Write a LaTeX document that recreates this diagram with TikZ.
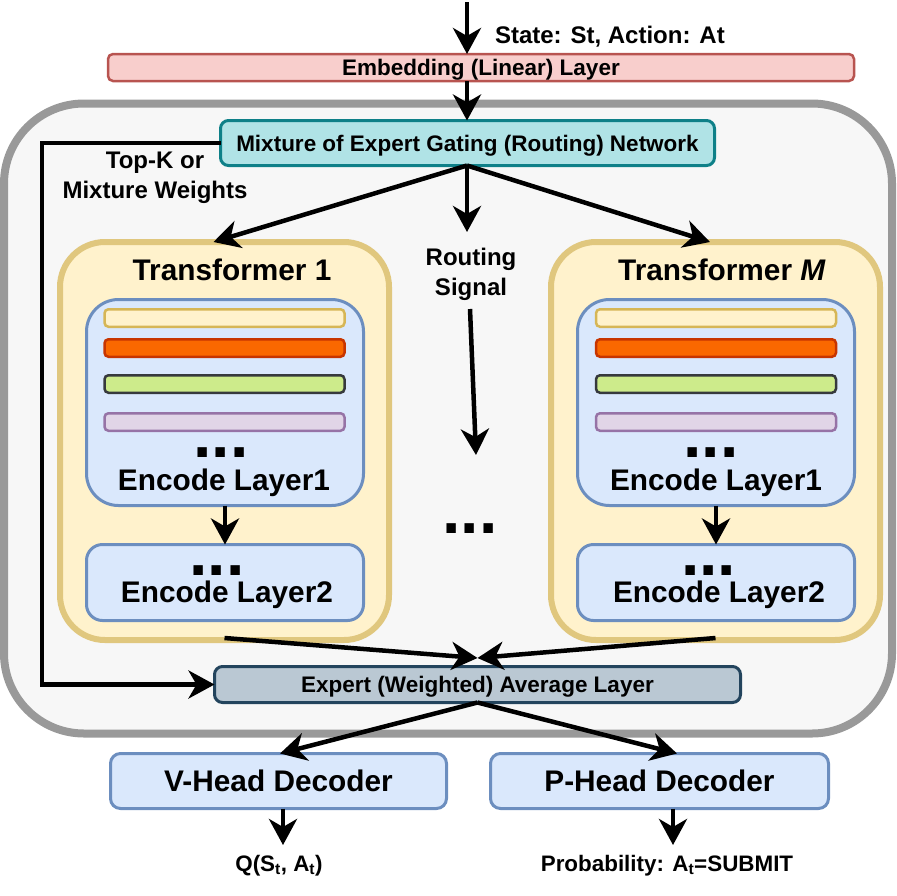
\documentclass[tikz,border=0pt]{standalone}
\usepackage{fontspec}
\setmainfont{Liberation Sans}
\usetikzlibrary{%
  arrows.meta,%
  positioning,% wg. " of "
  calc%
}
\definecolor{embfill}{HTML}{F8CECC}
\definecolor{embdraw}{HTML}{B85450}
\definecolor{gatefill}{HTML}{B0E3E6}
\definecolor{gatedraw}{HTML}{0E8088}
\definecolor{outerfill}{HTML}{F7F7F7}
\definecolor{outerdraw}{HTML}{999999}
\definecolor{transfill}{HTML}{FFF2CC}
\definecolor{transdraw}{HTML}{E0C77E}
\definecolor{encfill}{HTML}{DAE8FC}
\definecolor{encdraw}{HTML}{6C8EBF}
\definecolor{avgfill}{HTML}{BAC8D3}
\definecolor{avgdraw}{HTML}{23445D}
\definecolor{barAfill}{HTML}{FFF2CC}
\definecolor{barAdraw}{HTML}{D6B656}
\definecolor{barBfill}{HTML}{FA6800}
\definecolor{barBdraw}{HTML}{C73500}
\definecolor{barCfill}{HTML}{CDEB8B}
\definecolor{barCdraw}{HTML}{36393D}
\definecolor{barDfill}{HTML}{E1D5E7}
\definecolor{barDdraw}{HTML}{9673A6}

\newcommand{\bigdots}{{\fontsize{66}{27}\selectfont ...}}

\begin{document}
\begin{tikzpicture}
  [
  x=1pt, y=-1pt,
  line width=4.5pt,
  >={Stealth[length=26pt,width=28pt,inset=8pt]},
  box/.style={rectangle, inner sep=0pt, outer sep=0pt},
  embnode/.style={box, draw=embdraw, fill=embfill, line width=2.5pt, rounded corners=5pt,
    minimum width=746pt, minimum height=27pt,
    font=\bfseries\fontsize{22.5}{26}\selectfont, text height=16.1pt, text depth=0pt},
  gatenode/.style={box, draw=gatedraw, fill=gatefill, line width=3pt, rounded corners=8pt,
    minimum width=494pt, minimum height=45pt,
    font=\bfseries\fontsize{22.5}{26}\selectfont, text height=16.1pt, text depth=0pt},
  outernode/.style={box, draw=outerdraw, fill=outerfill, line width=8pt, rounded corners=80pt,
    minimum width=888pt, minimum height=630pt},
  transnode/.style={box, draw=transdraw, fill=transfill, line width=6pt, rounded corners=45pt,
    minimum width=329pt, minimum height=398pt},
  encnode/.style={box, draw=encdraw, fill=encfill, line width=3pt, minimum width=277pt},
  barnode/.style={box, line width=2.5pt, rounded corners=4pt, minimum width=240pt, minimum height=17.5pt},
  avgnode/.style={box, draw=avgdraw, fill=avgfill, line width=3pt, rounded corners=8pt,
    minimum width=526pt, minimum height=36pt,
    font=\bfseries\fontsize{22.5}{26}\selectfont, text height=16.1pt, text depth=0pt},
  headnode/.style={box, draw=encdraw, fill=encfill, line width=3pt, rounded corners=10pt,
    minimum height=55pt,
    font=\bfseries\fontsize{29.8}{34}\selectfont, text height=21.3pt, text depth=0pt},
  lbl/.style={inner sep=0pt, outer sep=0pt, font=\bfseries\fontsize{24}{30}\selectfont, align=center},
  biglbl/.style={inner sep=0pt, outer sep=0pt, anchor=base, font=\bfseries\fontsize{29.8}{34}\selectfont},
  enclbl/.style={inner sep=0pt, outer sep=0pt, anchor=base, align=center,
    font=\bfseries\fontsize{29.8}{#1}\selectfont},
  outlbl/.style={inner sep=0pt, outer sep=0pt, anchor=base, font=\bfseries\fontsize{22.4}{26}\selectfont},
  dotsnode/.style={inner sep=0pt, outer sep=0pt, anchor=base, font=\bfseries\fontsize{66}{66}\selectfont},
  ]

  \useasboundingbox (0,0) rectangle (897,895);

  % input and embedding
  \node[embnode] (emb) at (481,67.5) {Embedding (Linear) Layer};
  \node[lbl, anchor=base west] (state) at (495,43) {State: St, Action: At};

  % mixture of experts block
  \node[outernode] (outer) at (448,418.5) {};
  \node[gatenode] (gate) at (467.5,143) {Mixture of Expert Gating (Routing) Network};
  \node[lbl] (topk) at (155,178) {Top-K or\\Mixture Weights};
  \node[lbl] (routing) at (471,274) {Routing\\Signal};
  \node[dotsnode] (rdots) at (470,533) {...};

  % transformer 1
  \node[transnode] (t1) at (224.5,441) {};
  \node[biglbl] (t1title) at (232,280) {Transformer 1};
  \node[encnode, rounded corners=32pt, minimum height=206pt] (t1e1) at (225,402.5) {};
  \node[barnode, draw=barAdraw, fill=barAfill] (t1b1) at (224.5,318) {};
  \node[barnode, draw=barBdraw, fill=barBfill] (t1b2) at (224.5,348) {};
  \node[barnode, draw=barCdraw, fill=barCfill] (t1b3) at (224.5,384) {};
  \node[barnode, draw=barDdraw, fill=barDfill] (t1b4) at (224.5,422) {};
  \node[enclbl=33] (t1l1) at (224,490) {\bigdots\hspace*{6pt}\\Encode Layer1};
  \node[encnode, rounded corners=16pt, minimum height=76pt] (t1e2) at (225,582.5) {};
  \node[enclbl=27] (t1l2) at (227,602) {\bigdots\hspace*{20pt}\\Encode Layer2};

  % transformer M
  \node[transnode] (tm) at (715.5,441) {};
  \node[biglbl] (tmtitle) at (722,280) {Transformer \textit{M}};
  \node[encnode, rounded corners=32pt, minimum height=206pt] (tme1) at (716,402.5) {};
  \node[barnode, draw=barAdraw, fill=barAfill] (tmb1) at (716,318) {};
  \node[barnode, draw=barBdraw, fill=barBfill] (tmb2) at (716,348) {};
  \node[barnode, draw=barCdraw, fill=barCfill] (tmb3) at (716,384) {};
  \node[barnode, draw=barDdraw, fill=barDfill] (tmb4) at (716,422) {};
  \node[enclbl=33] (tml1) at (716,490) {\bigdots\hspace*{10pt}\\Encode Layer1};
  \node[encnode, rounded corners=16pt, minimum height=76pt] (tme2) at (716,582.5) {};
  \node[enclbl=27] (tml2) at (719,602) {\bigdots\hspace*{21pt}\\Encode Layer2};

  % averaging and heads
  \node[avgnode] (avg) at (477.5,684.5) {Expert (Weighted) Average Layer};
  \node[headnode, minimum width=336pt] (vh) at (278.5,781) {V-Head Decoder};
  \node[headnode, minimum width=338pt] (ph) at (659.5,781) {P-Head Decoder};
  \node[outlbl] (qlbl) at (279,871) {Q(S\textsubscript{t}, A\textsubscript{t})};
  \node[outlbl] (plbl) at (667,871) {Probability: A\textsubscript{t}=SUBMIT};

  % connectors
  \coordinate (stin) at (467,2);
  \coordinate (rtip) at (467,232);
  \coordinate (rs0) at (470,309);
  \coordinate (rs1) at (476,455);
  \coordinate (tkx) at (42,143);
  \coordinate (qout) at (283,845);
  \coordinate (pout) at (673,845);

  \draw[->] (stin) -- (stin |- emb.north);
  \draw[->] (emb.south -| stin) -- (gate.north -| stin);
  \draw[->] (gate.south -| stin) -- ([xshift=-11pt]t1.north);
  \draw[->] (gate.south -| stin) -- ([xshift=-5.5pt]tm.north);
  \draw[->] (gate.south -| stin) -- (rtip);
  \draw[->] (rs0) -- (rs1);
  \draw[->] (gate.west) -- (tkx) |- (avg.west);
  \draw[->] (t1e1.south) -- (t1e2.north);
  \draw[->] (tme1.south) -- (tme2.north);
  \draw[->] ([yshift=2pt]t1.south) -- ([yshift=8.5pt]avg.north);
  \draw[->] ([yshift=2pt]tm.south) -- ([yshift=8.5pt]avg.north);
  \draw[->] (avg.south) -- ([xshift=1.5pt]vh.north);
  \draw[->] (avg.south) -- ([xshift=17.5pt]ph.north);
  \draw[->] (vh.south -| qout) -- (qout);
  \draw[->] (ph.south -| pout) -- (pout);
\end{tikzpicture}
\end{document}
